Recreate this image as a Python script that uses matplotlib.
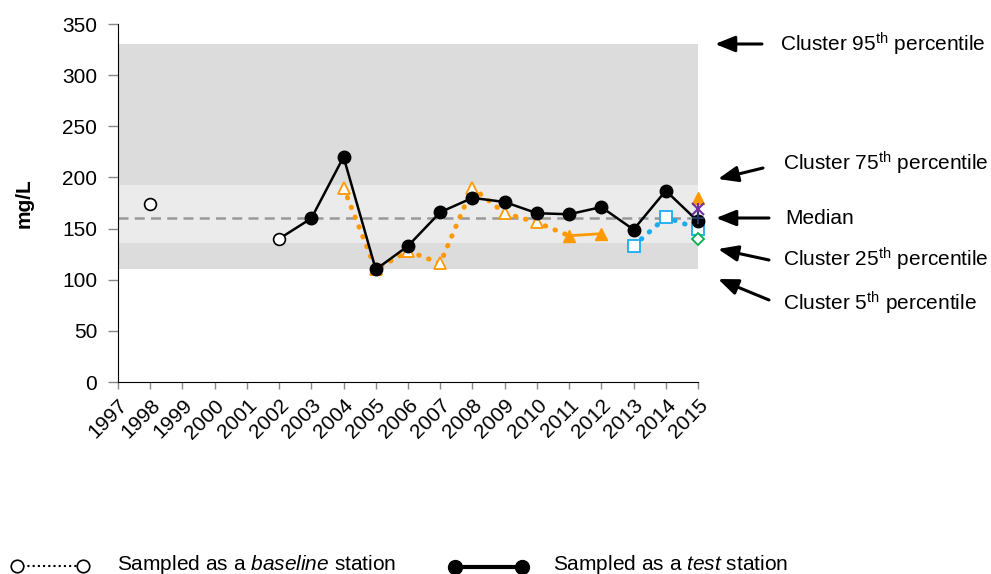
import matplotlib
matplotlib.use("Agg")
import matplotlib.pyplot as plt
from matplotlib.lines import Line2D

plt.rcParams['font.family'] = ['Liberation Sans', 'DejaVu Sans']
plt.rcParams['mathtext.fontset'] = 'custom'
plt.rcParams['mathtext.rm'] = 'Liberation Sans'
plt.rcParams['mathtext.it'] = 'Liberation Sans:italic'

years = list(range(1997, 2016))
tick_labels = [str(y) for y in years]

# Cluster percentiles
p5, p25, median, p75, p95 = 110.5, 136, 160, 193, 330

# Baseline (open circle) isolated point
base_years = [1998]
base_vals = [174]

# Test station series (black)
test_years = [2002, 2003, 2004, 2005, 2006, 2007, 2008, 2009, 2010, 2011, 2012, 2013, 2014, 2015]
test_vals = [140, 160, 220, 110, 133, 166, 180, 176, 165, 164, 171, 149, 187, 157]
test_open = [2002]  # sampled as baseline

# Orange baseline series (open triangles, dotted)
orng_b_years = [2004, 2005, 2006, 2007, 2008, 2009, 2010, 2011]
orng_b_vals = [190, 110, 128, 116, 190, 165, 156, 143]
# Orange test series (filled triangles, solid)
orng_t_years = [2011, 2012]
orng_t_vals = [143, 145]

# Blue baseline series (open squares, dotted)
blue_years = [2013, 2014, 2015]
blue_vals = [133, 161, 150]

# Other stations in 2015
other_2015 = {'orange_tri': 180, 'purple_x': 169, 'navy_plus': 160, 'green_diamond': 140}

FS = 15

fig = plt.figure(figsize=(9.91, 5.74), dpi=100)
ax = fig.add_axes([118/991, 1-382/574, 580/991, 358/574])

ax.set_xlim(1997, 2015)
ax.set_ylim(0, 350)

ax.axhspan(p5, p95, color='#DCDCDC', zorder=0, lw=0)
ax.axhspan(p25, p75, color='#EBEBEB', zorder=0.5, lw=0)
ax.axhline(median, color='#999999', ls=(0, (4, 2.5)), lw=1.8, zorder=1)

orange = '#FF9900'
blue = '#1AADEE'
dots = (0, (0.1, 2.0))

# orange dotted
ax.plot(orng_b_years, orng_b_vals, ls=dots, color=orange, lw=3.6,
        dash_capstyle='round', zorder=2, clip_on=False)
ax.plot(orng_b_years[:-1], orng_b_vals[:-1], ls='none', marker='^', ms=9,
        mfc='white', mec=orange, mew=1.3, zorder=4, clip_on=False)
ax.plot(orng_t_years, orng_t_vals, ls='-', color=orange, lw=2, marker='^', ms=9,
        mfc=orange, mec=orange, zorder=4, clip_on=False)

# blue dotted
ax.plot(blue_years, blue_vals, ls=dots, color=blue, lw=3.6,
        dash_capstyle='round', zorder=2, clip_on=False)
ax.plot(blue_years, blue_vals, ls='none', marker='s', ms=8.5,
        mfc='white', mec=blue, mew=1.3, zorder=4, clip_on=False)

# test series
ax.plot(test_years, test_vals, color='black', lw=1.8, zorder=3, clip_on=False)
fx = [y for y in test_years if y not in test_open]
fv = [v for y, v in zip(test_years, test_vals) if y not in test_open]
ax.plot(fx, fv, ls='none', marker='o', ms=9, mfc='black', mec='black', zorder=5, clip_on=False)
ox = [y for y in test_years if y in test_open] + base_years
ov = [v for y, v in zip(test_years, test_vals) if y in test_open] + base_vals
ax.plot(ox, ov, ls='none', marker='o', ms=8.5, mfc='white', mec='black', mew=1.2, zorder=5, clip_on=False)

# other 2015 stations
ax.plot([2015], [other_2015['orange_tri']], marker='^', ms=9, color=orange, zorder=6, clip_on=False)
ax.plot([2015], [other_2015['purple_x']], marker='x', ms=8, mew=1.5, color='#7030A0', zorder=6, clip_on=False)
ax.plot([2015], [other_2015['purple_x']], marker='|', ms=8, mew=1.5, color='#7030A0', zorder=6, clip_on=False)
ax.plot([2015], [other_2015['navy_plus']], marker='+', ms=9, mew=1.5, color='#1F3864', zorder=6, clip_on=False)
ax.plot([2015], [other_2015['green_diamond']], marker='D', ms=6.5, mfc='white', mec='#00B050', mew=1.3, zorder=6, clip_on=False)

ax.set_xticks(years)
ax.set_xticklabels(tick_labels, rotation=45, ha='right', rotation_mode='anchor', fontsize=FS)
ax.set_yticks(range(0, 351, 50))
ax.tick_params(axis='y', labelsize=FS, direction='out', length=7, color='#888888', width=1, pad=8)
ax.tick_params(axis='x', direction='out', length=5, color='#888888', width=1, pad=5)
for s in ['top', 'right']:
    ax.spines[s].set_visible(False)
ax.spines['left'].set_color('black')
ax.spines['bottom'].set_color('black')
ax.set_ylabel('mg/L', fontsize=FS, fontweight='bold')
ax.yaxis.set_label_coords(-84/580, 0.5)

# Right annotations (figure pixel coords)
def px(x, y):
    return (x/991, 1-y/574)

ann = [
    ('Cluster 95$^{\\mathrm{th}}$ percentile', (715, 44), (762, 44), (780, 44)),
    ('Cluster 75$^{\\mathrm{th}}$ percentile', (718, 179), (763, 168), (783, 163)),
    ('Median', (716, 218), (769, 218), (785, 218)),
    ('Cluster 25$^{\\mathrm{th}}$ percentile', (718, 249), (769, 260), (783, 259)),
    ('Cluster 5$^{\\mathrm{th}}$ percentile', (718, 279), (769, 300), (783, 303)),
]
for txt, head, tail, tpos in ann:
    fig.patches.append(matplotlib.patches.FancyArrowPatch(
        px(*tail), px(*head), transform=fig.transFigure, arrowstyle='-|>,head_length=12,head_width=4.8',
        color='black', lw=2.2, mutation_scale=1, shrinkA=0, shrinkB=0))
    fig.text(*px(*tpos), txt, fontsize=FS, va='center', ha='left')

# Bottom legend
fig.add_artist(Line2D([17/991, 83/991], [1-566/574]*2, transform=fig.transFigure,
                      color='black', ls=(0, (1, 1.5)), lw=1.5, marker='o', ms=9,
                      mfc='white', mec='black', mew=1.2))
fig.text(*px(117, 564), 'Sampled as a $\\it{baseline}$ station', fontsize=FS, va='center')
fig.add_artist(Line2D([455/991, 522/991], [1-567/574]*2, transform=fig.transFigure,
                      color='black', lw=3, marker='o', ms=10, mfc='black', mec='black'))
fig.text(*px(553, 564), 'Sampled as a $\\it{test}$ station', fontsize=FS, va='center')

fig.savefig('out.png', dpi=100)
